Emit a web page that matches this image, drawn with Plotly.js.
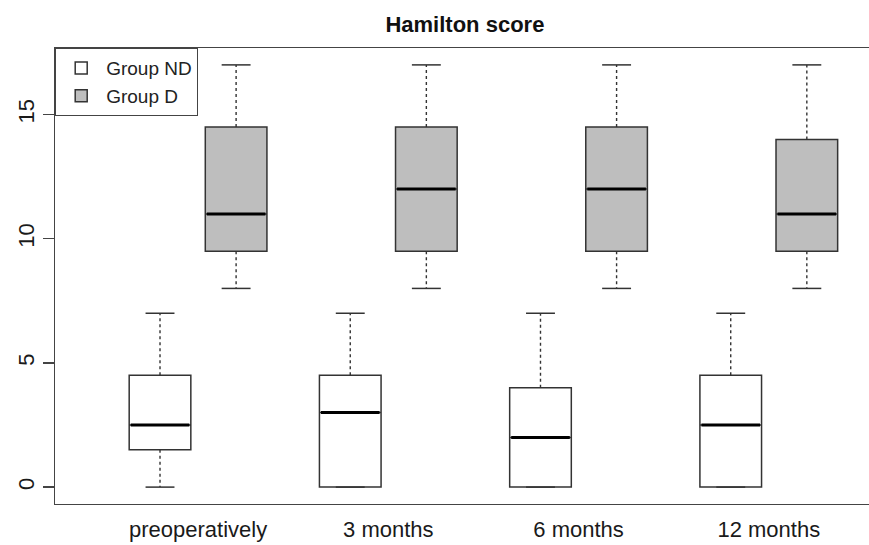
<!DOCTYPE html>
<html>
<head>
<meta charset="utf-8">
<script src="https://cdn.plot.ly/plotly-3.0.1.min.js"></script>
<style>html,body{margin:0;padding:0;background:#fff;}#chart{width:869px;height:545px;}</style>
</head>
<body>
<div id="chart"></div>
<script>
// ---- data ----
const categories = ["preoperatively", "3 months", "6 months", "12 months"];
const groupNames = ["Group ND", "Group D"];

const ndMin    = [0, 0, 0, 0];
const ndQ1     = [1.5, 0, 0, 0];
const ndMedian = [2.5, 3, 2, 2.5];
const ndQ3     = [4.5, 4.5, 4, 4.5];
const ndMax    = [7, 7, 7, 7];

const dMin    = [8, 8, 8, 8];
const dQ1     = [9.5, 9.5, 9.5, 9.5];
const dMedian = [11, 12, 12, 11];
const dQ3     = [14.5, 14.5, 14.5, 14];
const dMax    = [17, 17, 17, 17];

const yTicks = [0, 5, 10, 15];

// ---- layout helpers ----
const pairStep = 2.5, boxW = 0.81, capHalf = 0.19;
const posND = categories.map((c, i) => 1 + i * pairStep);
const posD  = categories.map((c, i) => 2 + i * pairStep);
const labelPos = categories.map((c, i) => 1.5 + i * pairStep);

const groups = [
  {name: groupNames[0], pos: posND, min: ndMin, q1: ndQ1, med: ndMedian, q3: ndQ3, max: ndMax, fill: "#ffffff"},
  {name: groupNames[1], pos: posD,  min: dMin,  q1: dQ1,  med: dMedian,  q3: dQ3,  max: dMax,  fill: "#bebebe"}
];

const traces = [];
groups.forEach(g => {
  traces.push({
    type: "box", name: g.name, x: g.pos,
    q1: g.q1, median: g.med, q3: g.q3, lowerfence: g.q1, upperfence: g.q3,
    width: boxW, whiskerwidth: 0, boxpoints: false,
    fillcolor: g.fill, line: {color: "#333333", width: 1.5},
    hoverinfo: "skip", showlegend: true
  });
});
groups.forEach(g => {
  // dashed whiskers
  const wx = [], wy = [];
  g.pos.forEach((p, i) => {
    wx.push(p, p, null, p, p, null);
    wy.push(g.q3[i], g.max[i], null, g.q1[i], g.min[i], null);
  });
  traces.push({type: "scatter", mode: "lines", x: wx, y: wy, showlegend: false, hoverinfo: "skip",
    line: {color: "#333333", width: 1.4, dash: "3px,3px"}});
  // caps
  const cx = [], cy = [];
  g.pos.forEach((p, i) => {
    cx.push(p - capHalf, p + capHalf, null, p - capHalf, p + capHalf, null);
    cy.push(g.max[i], g.max[i], null, g.min[i], g.min[i], null);
  });
  traces.push({type: "scatter", mode: "lines", x: cx, y: cy, showlegend: false, hoverinfo: "skip",
    line: {color: "#333333", width: 1.5}});
  // thick medians
  const mx = [], my = [];
  g.pos.forEach((p, i) => {
    mx.push(p - boxW / 2 + 0.02, p + boxW / 2 - 0.02, null);
    my.push(g.med[i], g.med[i], null);
  });
  traces.push({type: "scatter", mode: "lines", x: mx, y: my, showlegend: false, hoverinfo: "skip",
    line: {color: "#000000", width: 3}});
});

const layout = {
  width: 869, height: 545,
  margin: {l: 55, r: 0, t: 48, b: 41},
  paper_bgcolor: "#ffffff", plot_bgcolor: "#ffffff",
  font: {family: "Liberation Sans, Arial, sans-serif", color: "#222222", size: 22},
  title: {text: "Hamilton score", font: {size: 22, weight: "bold", color: "#111111"},
          x: 0.535, xanchor: "center", y: 0.955, yanchor: "middle"},
  showlegend: true,
  legend: {x: 0, y: 1, xanchor: "left", yanchor: "top", bgcolor: "#ffffff",
           bordercolor: "#444444", borderwidth: 1.2, font: {size: 19, color: "#222222"},
           traceorder: "normal", itemwidth: 40},
  xaxis: {range: [-0.38, 10.317], showgrid: false, zeroline: false,
          showline: true, linecolor: "#444444", linewidth: 1.4, mirror: true,
          ticks: "", tickvals: labelPos, ticktext: categories,
          tickfont: {size: 22, color: "#1a1a1a"}, ticklabelstandoff: 5, fixedrange: true},
  yaxis: {range: [-0.68, 17.68], showgrid: false, zeroline: false,
          showline: true, linecolor: "#444444", linewidth: 1.4, mirror: false,
          ticks: "outside", ticklen: 11, tickcolor: "#444444", tickwidth: 1.3,
          tickvals: yTicks, ticktext: yTicks.map(String), tickangle: -90,
          tickfont: {size: 22, color: "#1a1a1a"}, fixedrange: true}
};

Plotly.newPlot("chart", traces, layout, {displayModeBar: false, staticPlot: true});
</script>
</body>
</html>
